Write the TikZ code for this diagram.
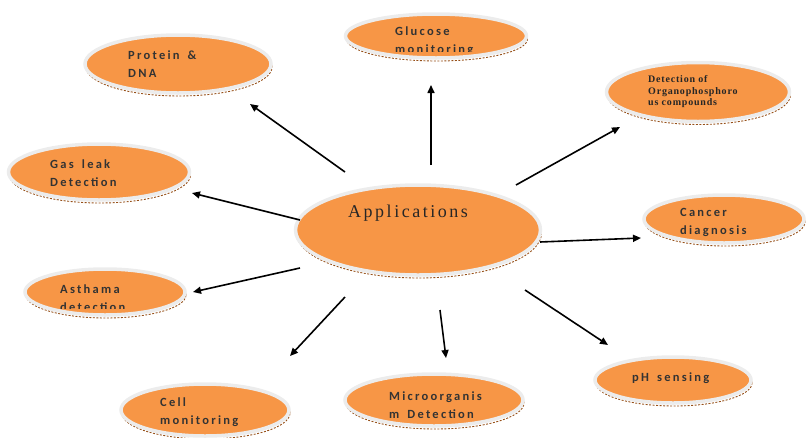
\documentclass[tikz,border=0pt]{standalone}
\usepackage{fontspec}
\usetikzlibrary{shapes.geometric,arrows.meta,shadows}
\newfontfamily\lblfont[LetterSpace=18,WordSpace=1.6]{Carlito}
\newfontfamily\appfont[LetterSpace=14]{Liberation Serif}
\newfontfamily\orgfont[LetterSpace=8]{Liberation Serif}
\definecolor{orng}{RGB}{247,150,70}
\definecolor{rimgray}{RGB}{236,236,236}
\definecolor{shbrown}{RGB}{150,80,25}
\tikzset{
  bub/.style={ellipse, fill=orng, draw=rimgray, line width=3.5pt, inner sep=0pt,
    drop shadow={fill=none, draw=shbrown, dashed, dash pattern=on 2pt off 1.5pt,
      line width=0.9pt, opacity=1, shadow xshift=1pt, shadow yshift=-3pt}},
  lbl/.style={anchor=west, inner sep=0pt, align=left, font=\lblfont\bfseries\fontsize{12.5}{18}\selectfont, text=black!80},
  orgl/.style={anchor=west, inner sep=0pt, align=left, font=\orgfont\bfseries\fontsize{10}{11.5}\selectfont, text=black!85},
  arr/.style={-{Triangle[length=8pt,width=7pt]}, line width=1.6pt, black}
}
\begin{document}
\begin{tikzpicture}[x=1pt,y=-1pt]
\useasboundingbox (0,0) rectangle (806,437);
% bubbles
\node[bub, minimum width=186, minimum height=58] (prot) at (178,64) {};
\node[bub, minimum width=181, minimum height=44] (gluc) at (436,36) {};
\node[bub, minimum width=183, minimum height=59] (orga) at (698,92) {};
\node[bub, minimum width=181, minimum height=56] (gas) at (99,172) {};
\node[bub, minimum width=245, minimum height=90] (app) at (418,230) {};
\node[bub, minimum width=160, minimum height=48] (canc) at (724,219) {};
\node[bub, minimum width=160, minimum height=46] (asth) at (105,292) {};
\node[bub, minimum width=156, minimum height=46] (ph) at (673,380) {};
\node[bub, minimum width=168, minimum height=52] (cell) at (205,410) {};
\node[bub, minimum width=178, minimum height=52] (micro) at (434,400) {};
% texts
\node[lbl] (protT) at (128,64) {Protein \&\\DNA};
\begin{scope}
\clip (340,10) rectangle (540,51);
\node[lbl] (glucT) at (395,41) {Glucose\\monitoring};
\end{scope}
\node[orgl] (orgaT) at (648,92) {Detection of\\Organophosphoro\\us compounds};
\node[lbl] (gasT) at (50,173) {Gas leak\\Detection};
\node[anchor=west, inner sep=0pt, font=\appfont\fontsize{18}{20}\selectfont, text=black!85] (appT) at (348,213) {Applications};
\node[lbl] (cancT) at (680,222) {Cancer\\diagnosis};
\begin{scope}
\clip (10,260) rectangle (200,308);
\node[lbl] (asthT) at (60,298) {Asthama\\detection};
\end{scope}
\node[lbl] (phT) at (632,378) {pH sensing};
\node[lbl] (cellT) at (160,412) {Cell\\monitoring};
\node[lbl] (microT) at (389,405) {Microorganis\\m Detection};
% arrow end points
\coordinate (t1) at (345,172); \coordinate (h1) at (250,104);
\coordinate (t2) at (431,165); \coordinate (h2) at (431,85);
\coordinate (t3) at (516,185); \coordinate (h3) at (620,127);
\coordinate (t4) at (300,220); \coordinate (h4) at (192,193);
\coordinate (t5) at (540,242); \coordinate (h5) at (641,238);
\coordinate (t6) at (300,268); \coordinate (h6) at (193,292);
\coordinate (t7) at (525,290); \coordinate (h7) at (608,345);
\coordinate (t8) at (345,297); \coordinate (h8) at (290,356);
\coordinate (t9) at (440,310); \coordinate (h9) at (446,358);
\foreach \i in {1,...,9} { \draw[arr] (t\i) -- (h\i); }
\end{tikzpicture}
\end{document}
